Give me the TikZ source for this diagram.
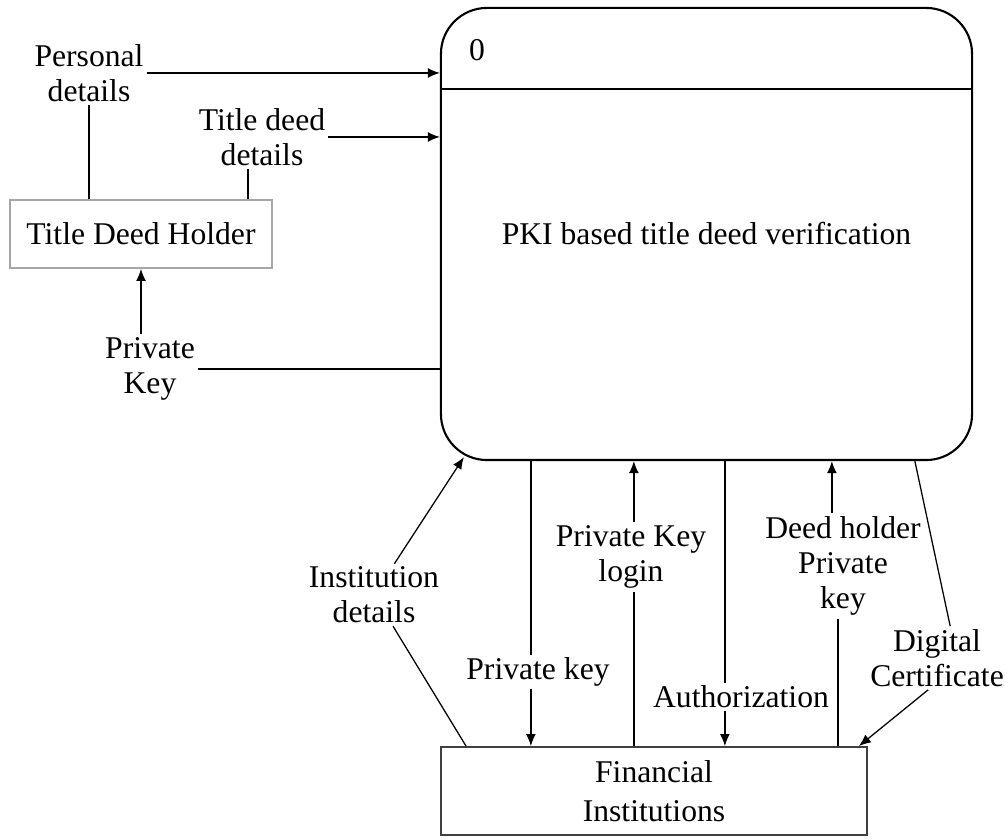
\documentclass[tikz,border=0pt]{standalone}
\usepackage{fontspec}
\setmainfont{Liberation Serif}
\usetikzlibrary{calc,arrows.meta}

\begin{document}
\begin{tikzpicture}[x=0.025cm,y=0.025cm,>={Latex[length=8.5pt,width=7pt]},
    every node/.style={font=\fontsize{22.5}{25}\selectfont},
    lbl/.style={align=center,inner sep=2pt},
    flow/.style={line width=0.9pt}]
    \useasboundingbox (0,0) rectangle (1008,840);
    \node[draw,line width=1.5pt,rounded corners=1.15cm,minimum width=13.275cm,minimum height=11.3cm] (proc) at (706.5,606) {PKI based title deed verification};
    \draw[line width=1.5pt] ($(proc.north west)+(0,-82)$) -- ($(proc.north east)+(0,-82)$);
    \node (pid) at (477,790) {0};
    \node[draw=gray!70,line width=1.3pt,minimum width=6.55cm,minimum height=1.7cm] (tdh) at (141,606) {Title Deed Holder};
    \node[draw=black!75,line width=1.3pt,minimum width=10.65cm,minimum height=2.2cm,align=center] (fin) at (654,49) {Financial\\[3pt]Institutions};
    \node[lbl] (pd) at (89,767) {Personal\\details};
    \node[lbl] (tdd) at (262,703) {Title deed\\details};
    \node[lbl] (pk) at (150,471) {Private\\Key};
    \node[lbl] (inst) at (374,245) {Institution\\details};
    \node[lbl] (pkey) at (538,168) {Private key};
    \node[lbl] (pkl) at (631,283) {Private Key\\login};
    \node[lbl] (auth) at (741,143) {Authorization};
    \node[lbl] (dhpk) at (843,274) {Deed holder\\Private\\key};
    \node[lbl] (dc) at (937,182) {Digital\\Certificate};
    \coordinate (tddfoot) at ([xshift=-0.35cm]tdd.south);
    \coordinate (insttip) at ($(proc.south west)+(24,4)$);
    \coordinate (instfoot) at ($(fin.north west)+(26,0)$);
    \coordinate (a1) at ($(proc.south west)+(91,0)$);
    \coordinate (a2) at ($(proc.south west)+(194,0)$);
    \coordinate (a3) at ($(proc.south west)+(285,0)$);
    \coordinate (a4) at ($(proc.south west)+(392,0)$);
    \coordinate (a5) at ($(fin.north west)+(398,0)$);
    \coordinate (a6) at ($(proc.south west)+(475,0)$);
    \coordinate (dctip) at ($(fin.north east)+(-9,0)$);
    \draw[flow,->] (pd) -- (pd -| proc.west);
    \draw[flow] (pd) -- (pd |- tdh.north);
    \draw[flow,->] (tdd) -- (tdd -| proc.west);
    \draw[flow] (tddfoot) -- (tddfoot |- tdh.north);
    \draw[flow,->] (tdh.south |- pk.north) -- (tdh.south);
    \draw[flow] (pk) -- (pk -| proc.west);
    \draw[flow,->] (inst) -- (insttip);
    \draw[flow] (inst) -- (instfoot);
    \draw[flow] (a1) -- (a1 |- pkey.north);
    \draw[flow,->] (a1 |- pkey.south) -- (a1 |- fin.north);
    \draw[flow,->] (a2 |- pkl.north) -- (a2);
    \draw[flow] (a2 |- fin.north) -- (a2 |- pkl.south);
    \draw[flow] (a3) -- (a3 |- auth.north);
    \draw[flow,->] (a3 |- auth.south) -- (a3 |- fin.north);
    \draw[flow,->] (a4 |- dhpk.north) -- (a4);
    \draw[flow] (a5) -- (a5 |- dhpk.south);
    \draw[flow] (a6) -- ([xshift=0.33cm]dc.north);
    \draw[flow,->] ([xshift=-0.22cm]dc.south) -- (dctip);
\end{tikzpicture}
\end{document}
